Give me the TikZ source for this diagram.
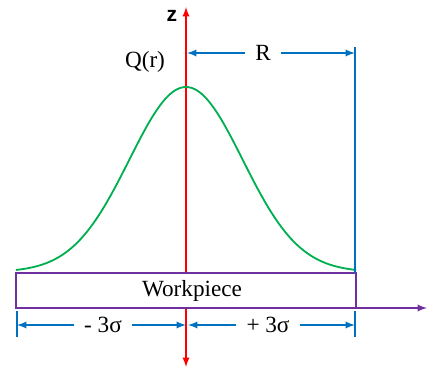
\documentclass[tikz,border=0pt]{standalone}
\usepackage{fontspec}
\setmainfont{Liberation Serif}
\newfontfamily\zfont{Liberation Sans}
\usepackage{xcolor}
\usepackage{tikz}

\definecolor{axisred}{RGB}{255,0,0}
\definecolor{dimblue}{RGB}{0,112,192}
\definecolor{gaussgreen}{RGB}{0,176,80}
\definecolor{wppurple}{RGB}{112,48,160}

\begin{document}
\begin{tikzpicture}[
    x=0.025cm, y=-0.025cm,
    wpbox/.style={draw=wppurple, line width=1.3pt, fill=white, rectangle, minimum width=8.5cm, minimum height=0.875cm, inner sep=0pt, outer sep=0pt},
    txt/.style={font=\fontsize{16.5}{19}\selectfont, inner sep=0pt},
    dimlabel/.style={font=\fontsize{16.5}{19}\selectfont, inner sep=7pt},
    dim/.style={-latex, dimblue, line width=1.3pt},
    tick/.style={dimblue, line width=1.3pt},
    axis/.style={latex-latex, axisred, line width=1.3pt},
    gauss/.style={gaussgreen, line width=1.3pt}
  ]
    \useasboundingbox (0,0) rectangle (428,369);

    % Axes
    \coordinate (ztop) at (186,7);
    \coordinate (zbot) at (186,367);
    \draw[axis] (zbot) -- (ztop);
    \node[font=\zfont\bfseries\fontsize{15}{17}\selectfont, inner sep=0pt] (zlabel) at (172,16) {z};

    % Heat flux curve
    \draw[gauss] plot[domain=-3:3, samples=90, smooth] ({186+56.7*\x},{272-185*exp(-\x*\x/2)});
    \node[txt] (qlabel) at (145,62) {Q(r)};

    % Workpiece
    \node[wpbox] (wp) at (186,290.5) {};
    \node[txt] (wptext) at (192,291) {Workpiece};
    \coordinate (raxis) at (427,307);
    \draw[-latex, wppurple, line width=1.3pt] (wp.south east) -- (wp.south east -| raxis);

    % Radius R
    \coordinate (rtop) at (355,47);
    \draw[tick] (rtop |- wp.north) -- (rtop);
    \node[dimlabel] (rlabel) at (263,53) {R};
    \coordinate (rleft) at (187,53);
    \coordinate (rright) at (355,53);
    \draw[dim] (rlabel) -- (rleft);
    \draw[dim] (rlabel) -- (rright);

    % Spread +/- 3 sigma
    \coordinate (ltick1) at (17,311);
    \coordinate (ltick2) at (17,337);
    \coordinate (rtick1) at (355,311);
    \coordinate (rtick2) at (355,337);
    \draw[tick] (ltick1) -- (ltick2);
    \draw[tick] (rtick1) -- (rtick2);
    \node[dimlabel] (minus) at (103,325) {- 3σ};
    \node[dimlabel] (plus) at (268,325) {+ 3σ};
    \coordinate (sleft) at (17,325);
    \coordinate (smidl) at (186,325);
    \coordinate (smidr) at (188,325);
    \coordinate (sright) at (355,325);
    \draw[dim] (minus) -- (sleft);
    \draw[dim] (minus) -- (smidl);
    \draw[dim] (plus) -- (smidr);
    \draw[dim] (plus) -- (sright);
\end{tikzpicture}
\end{document}
